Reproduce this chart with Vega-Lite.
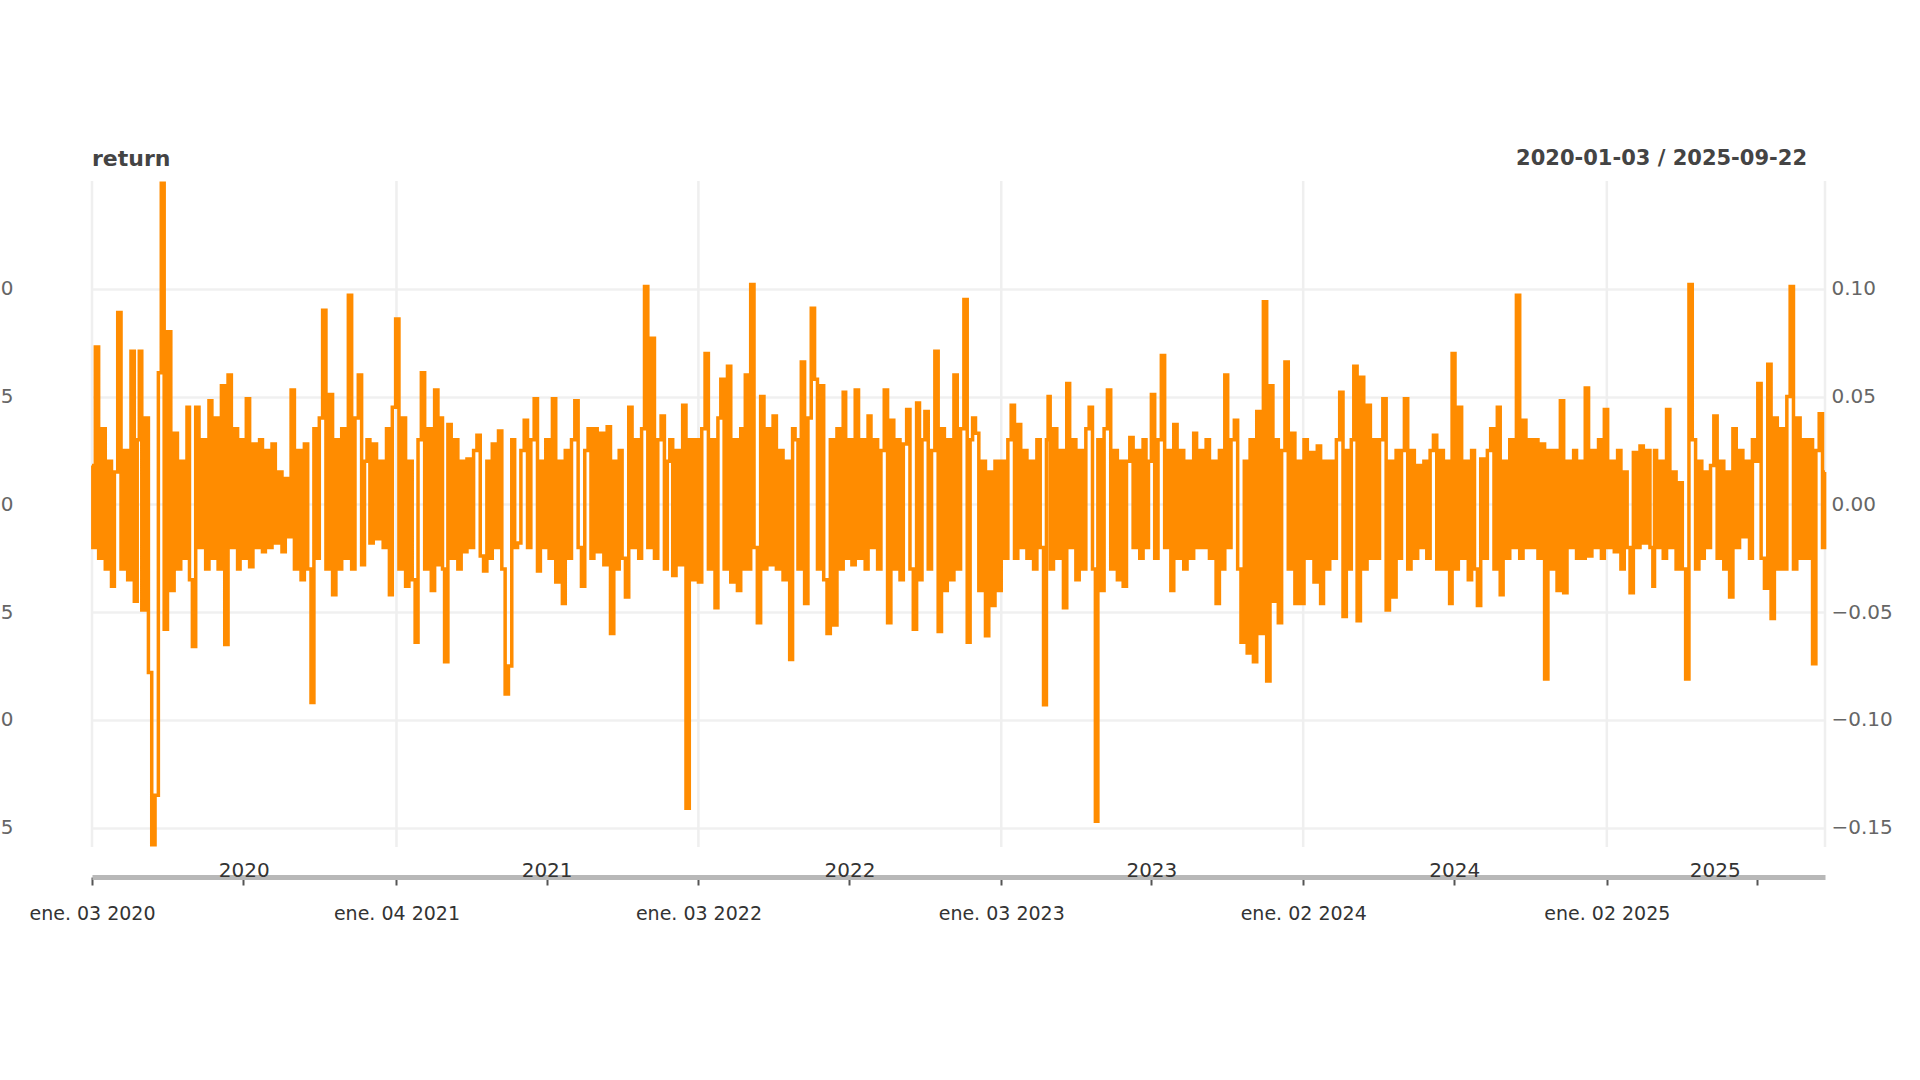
{
"$schema":"https://vega.github.io/schema/vega-lite/v6.json",
"width":1733,"height":666,
"autosize":{"type":"none"},
"padding":{"left":92,"top":181,"right":95,"bottom":233},
"background":"white",
"config":{"view":{"stroke":null},"font":"DejaVu Sans","axis":{"labelFont":"DejaVu Sans"}},
"title":{"text":"return","anchor":"start","frame":"group","fontSize":22,"font":"DejaVu Sans","fontWeight":"bold","color":"#444444","offset":-23},
"datasets":{
"grid":[{"d":"2020-01-03"},{"d":"2021-01-04"},{"d":"2022-01-03"},{"d":"2023-01-03"},{"d":"2024-01-02"},{"d":"2025-01-02"},{"d":"2025-09-22"}],
"range":[{"t":"2020-01-03 / 2025-09-22"}],
"ret":[
{"d":"2020-01-03","r":0.018},{"d":"2020-01-05","r":-0.02},{"d":"2020-01-09","r":0.073},{"d":"2020-01-13","r":-0.025},{"d":"2020-01-17","r":0.035},{"d":"2020-01-21","r":-0.03},{"d":"2020-01-25","r":0.02},{"d":"2020-01-28","r":-0.038},
{"d":"2020-02-01","r":0.015},{"d":"2020-02-05","r":0.089},{"d":"2020-02-09","r":-0.03},{"d":"2020-02-13","r":0.025},{"d":"2020-02-17","r":-0.035},{"d":"2020-02-21","r":0.071},{"d":"2020-02-25","r":-0.045},{"d":"2020-02-28","r":0.03},
{"d":"2020-03-01","r":0.071},{"d":"2020-03-05","r":-0.049},{"d":"2020-03-09","r":0.04},{"d":"2020-03-13","r":-0.078},{"d":"2020-03-17","r":-0.158},{"d":"2020-03-21","r":-0.135},{"d":"2020-03-25","r":0.061},{"d":"2020-03-28","r":0.149},
{"d":"2020-04-01","r":-0.058},{"d":"2020-04-05","r":0.08},{"d":"2020-04-09","r":-0.04},{"d":"2020-04-13","r":0.033},{"d":"2020-04-17","r":-0.03},{"d":"2020-04-21","r":0.02},{"d":"2020-04-25","r":-0.025},{"d":"2020-04-28","r":0.045},
{"d":"2020-05-01","r":-0.035},{"d":"2020-05-05","r":-0.066},{"d":"2020-05-09","r":0.045},{"d":"2020-05-13","r":-0.02},{"d":"2020-05-17","r":0.03},{"d":"2020-05-21","r":-0.03},{"d":"2020-05-25","r":0.048},{"d":"2020-05-28","r":-0.025},
{"d":"2020-06-01","r":0.04},{"d":"2020-06-05","r":-0.03},{"d":"2020-06-09","r":0.055},{"d":"2020-06-13","r":-0.065},{"d":"2020-06-17","r":0.06},{"d":"2020-06-21","r":-0.02},{"d":"2020-06-25","r":0.035},{"d":"2020-06-28","r":-0.03},
{"d":"2020-07-01","r":0.03},{"d":"2020-07-05","r":-0.025},{"d":"2020-07-09","r":0.049},{"d":"2020-07-13","r":-0.029},{"d":"2020-07-17","r":0.028},{"d":"2020-07-21","r":-0.02},{"d":"2020-07-25","r":0.03},{"d":"2020-07-28","r":-0.022},
{"d":"2020-08-01","r":0.025},{"d":"2020-08-05","r":-0.02},{"d":"2020-08-09","r":0.028},{"d":"2020-08-13","r":-0.018},{"d":"2020-08-17","r":0.015},{"d":"2020-08-21","r":-0.022},{"d":"2020-08-25","r":0.012},{"d":"2020-08-28","r":-0.015},
{"d":"2020-09-01","r":0.053},{"d":"2020-09-05","r":-0.03},{"d":"2020-09-09","r":0.025},{"d":"2020-09-13","r":-0.035},{"d":"2020-09-17","r":0.028},{"d":"2020-09-21","r":-0.03},{"d":"2020-09-25","r":-0.092},{"d":"2020-09-28","r":0.035},
{"d":"2020-10-01","r":-0.025},{"d":"2020-10-05","r":0.04},{"d":"2020-10-09","r":0.09},{"d":"2020-10-13","r":-0.03},{"d":"2020-10-17","r":0.051},{"d":"2020-10-21","r":-0.042},{"d":"2020-10-25","r":0.03},{"d":"2020-10-28","r":-0.03},
{"d":"2020-11-01","r":0.035},{"d":"2020-11-05","r":-0.025},{"d":"2020-11-09","r":0.097},{"d":"2020-11-13","r":-0.03},{"d":"2020-11-17","r":0.04},{"d":"2020-11-21","r":0.06},{"d":"2020-11-25","r":-0.028},{"d":"2020-11-28","r":0.02},
{"d":"2020-12-01","r":0.03},{"d":"2020-12-05","r":-0.018},{"d":"2020-12-09","r":0.028},{"d":"2020-12-13","r":-0.016},{"d":"2020-12-17","r":0.02},{"d":"2020-12-21","r":-0.02},{"d":"2020-12-25","r":0.035},{"d":"2020-12-28","r":-0.042},
{"d":"2021-01-01","r":0.045},{"d":"2021-01-05","r":0.086},{"d":"2021-01-09","r":-0.03},{"d":"2021-01-13","r":0.04},{"d":"2021-01-17","r":-0.038},{"d":"2021-01-21","r":0.02},{"d":"2021-01-25","r":-0.035},{"d":"2021-01-28","r":-0.064},
{"d":"2021-02-01","r":0.03},{"d":"2021-02-05","r":0.061},{"d":"2021-02-09","r":-0.03},{"d":"2021-02-13","r":0.035},{"d":"2021-02-17","r":-0.04},{"d":"2021-02-21","r":0.053},{"d":"2021-02-25","r":-0.028},{"d":"2021-02-28","r":0.04},
{"d":"2021-03-01","r":-0.03},{"d":"2021-03-05","r":-0.073},{"d":"2021-03-09","r":0.037},{"d":"2021-03-13","r":-0.025},{"d":"2021-03-17","r":0.03},{"d":"2021-03-21","r":-0.03},{"d":"2021-03-25","r":0.02},{"d":"2021-03-28","r":-0.022},
{"d":"2021-04-01","r":0.021},{"d":"2021-04-05","r":-0.02},{"d":"2021-04-09","r":0.025},{"d":"2021-04-13","r":0.032},{"d":"2021-04-17","r":-0.024},{"d":"2021-04-21","r":-0.031},{"d":"2021-04-25","r":0.02},{"d":"2021-04-28","r":-0.025},
{"d":"2021-05-01","r":0.028},{"d":"2021-05-05","r":-0.02},{"d":"2021-05-09","r":0.034},{"d":"2021-05-13","r":-0.03},{"d":"2021-05-17","r":-0.088},{"d":"2021-05-21","r":-0.075},{"d":"2021-05-25","r":0.03},{"d":"2021-05-28","r":-0.02},
{"d":"2021-06-01","r":-0.018},{"d":"2021-06-05","r":0.025},{"d":"2021-06-09","r":0.039},{"d":"2021-06-13","r":-0.02},{"d":"2021-06-17","r":0.03},{"d":"2021-06-21","r":0.049},{"d":"2021-06-25","r":-0.031},{"d":"2021-06-28","r":0.02},
{"d":"2021-07-01","r":-0.02},{"d":"2021-07-05","r":0.03},{"d":"2021-07-09","r":-0.025},{"d":"2021-07-13","r":0.049},{"d":"2021-07-17","r":-0.036},{"d":"2021-07-21","r":0.02},{"d":"2021-07-25","r":-0.046},{"d":"2021-07-28","r":0.025},
{"d":"2021-08-01","r":-0.025},{"d":"2021-08-05","r":0.03},{"d":"2021-08-09","r":0.048},{"d":"2021-08-13","r":-0.02},{"d":"2021-08-17","r":-0.038},{"d":"2021-08-21","r":0.025},{"d":"2021-08-25","r":0.035},{"d":"2021-08-28","r":-0.025},
{"d":"2021-09-01","r":0.035},{"d":"2021-09-05","r":-0.022},{"d":"2021-09-09","r":0.033},{"d":"2021-09-13","r":-0.028},{"d":"2021-09-17","r":0.036},{"d":"2021-09-21","r":-0.06},{"d":"2021-09-25","r":0.02},{"d":"2021-09-28","r":-0.03},
{"d":"2021-10-01","r":0.025},{"d":"2021-10-05","r":-0.025},{"d":"2021-10-09","r":-0.043},{"d":"2021-10-13","r":0.045},{"d":"2021-10-17","r":-0.02},{"d":"2021-10-21","r":0.03},{"d":"2021-10-25","r":-0.025},{"d":"2021-10-28","r":0.035},
{"d":"2021-11-01","r":0.101},{"d":"2021-11-05","r":-0.02},{"d":"2021-11-09","r":0.077},{"d":"2021-11-13","r":-0.025},{"d":"2021-11-17","r":0.03},{"d":"2021-11-21","r":0.041},{"d":"2021-11-25","r":-0.03},{"d":"2021-11-28","r":0.02},
{"d":"2021-12-01","r":0.03},{"d":"2021-12-05","r":-0.033},{"d":"2021-12-09","r":0.025},{"d":"2021-12-13","r":-0.028},{"d":"2021-12-17","r":0.046},{"d":"2021-12-21","r":-0.141},{"d":"2021-12-25","r":0.03},{"d":"2021-12-28","r":-0.035},
{"d":"2022-01-01","r":0.03},{"d":"2022-01-05","r":-0.036},{"d":"2022-01-09","r":0.035},{"d":"2022-01-13","r":0.07},{"d":"2022-01-17","r":-0.03},{"d":"2022-01-21","r":0.03},{"d":"2022-01-25","r":-0.048},{"d":"2022-01-28","r":0.04},
{"d":"2022-02-01","r":0.058},{"d":"2022-02-05","r":-0.03},{"d":"2022-02-09","r":0.064},{"d":"2022-02-13","r":-0.036},{"d":"2022-02-17","r":0.03},{"d":"2022-02-21","r":-0.04},{"d":"2022-02-25","r":0.035},{"d":"2022-02-28","r":-0.03},
{"d":"2022-03-01","r":0.06},{"d":"2022-03-05","r":-0.03},{"d":"2022-03-09","r":0.102},{"d":"2022-03-13","r":-0.02},{"d":"2022-03-17","r":-0.055},{"d":"2022-03-21","r":0.05},{"d":"2022-03-25","r":-0.03},{"d":"2022-03-28","r":0.035},
{"d":"2022-04-01","r":-0.028},{"d":"2022-04-05","r":0.041},{"d":"2022-04-09","r":-0.03},{"d":"2022-04-13","r":0.025},{"d":"2022-04-17","r":-0.035},{"d":"2022-04-21","r":0.02},{"d":"2022-04-25","r":-0.072},{"d":"2022-04-28","r":0.035},
{"d":"2022-05-01","r":0.03},{"d":"2022-05-05","r":-0.03},{"d":"2022-05-09","r":0.066},{"d":"2022-05-13","r":-0.046},{"d":"2022-05-17","r":0.04},{"d":"2022-05-21","r":0.091},{"d":"2022-05-25","r":0.058},{"d":"2022-05-28","r":-0.03},
{"d":"2022-06-01","r":0.055},{"d":"2022-06-05","r":-0.035},{"d":"2022-06-09","r":-0.06},{"d":"2022-06-13","r":0.03},{"d":"2022-06-17","r":-0.056},{"d":"2022-06-21","r":0.035},{"d":"2022-06-25","r":-0.03},{"d":"2022-06-28","r":0.052},
{"d":"2022-07-01","r":-0.025},{"d":"2022-07-05","r":0.03},{"d":"2022-07-09","r":-0.028},{"d":"2022-07-13","r":0.053},{"d":"2022-07-17","r":-0.025},{"d":"2022-07-21","r":0.03},{"d":"2022-07-25","r":-0.03},{"d":"2022-07-28","r":0.041},
{"d":"2022-08-01","r":-0.02},{"d":"2022-08-05","r":0.03},{"d":"2022-08-09","r":-0.03},{"d":"2022-08-13","r":0.025},{"d":"2022-08-17","r":0.053},{"d":"2022-08-21","r":-0.055},{"d":"2022-08-25","r":0.039},{"d":"2022-08-28","r":-0.03},
{"d":"2022-09-01","r":0.03},{"d":"2022-09-05","r":-0.035},{"d":"2022-09-09","r":0.028},{"d":"2022-09-13","r":0.044},{"d":"2022-09-17","r":-0.03},{"d":"2022-09-21","r":-0.058},{"d":"2022-09-25","r":0.047},{"d":"2022-09-28","r":-0.035},
{"d":"2022-10-01","r":0.03},{"d":"2022-10-05","r":0.043},{"d":"2022-10-09","r":-0.03},{"d":"2022-10-13","r":0.025},{"d":"2022-10-17","r":0.071},{"d":"2022-10-21","r":-0.059},{"d":"2022-10-25","r":0.035},{"d":"2022-10-28","r":-0.04},
{"d":"2022-11-01","r":0.03},{"d":"2022-11-05","r":-0.035},{"d":"2022-11-09","r":0.06},{"d":"2022-11-13","r":-0.03},{"d":"2022-11-17","r":0.035},{"d":"2022-11-21","r":0.095},{"d":"2022-11-25","r":-0.064},{"d":"2022-11-28","r":0.03},
{"d":"2022-12-01","r":0.04},{"d":"2022-12-05","r":0.033},{"d":"2022-12-09","r":-0.04},{"d":"2022-12-13","r":0.02},{"d":"2022-12-17","r":-0.061},{"d":"2022-12-21","r":0.015},{"d":"2022-12-25","r":-0.047},{"d":"2022-12-28","r":0.02},
{"d":"2023-01-01","r":-0.04},{"d":"2023-01-05","r":0.02},{"d":"2023-01-09","r":-0.025},{"d":"2023-01-13","r":0.03},{"d":"2023-01-17","r":0.046},{"d":"2023-01-21","r":-0.025},{"d":"2023-01-25","r":0.037},{"d":"2023-01-28","r":-0.02},
{"d":"2023-02-01","r":0.025},{"d":"2023-02-05","r":-0.025},{"d":"2023-02-09","r":0.02},{"d":"2023-02-13","r":-0.03},{"d":"2023-02-17","r":0.03},{"d":"2023-02-21","r":-0.02},{"d":"2023-02-25","r":-0.093},{"d":"2023-02-28","r":0.03},
{"d":"2023-03-01","r":0.05},{"d":"2023-03-05","r":-0.03},{"d":"2023-03-09","r":0.035},{"d":"2023-03-13","r":-0.025},{"d":"2023-03-17","r":0.025},{"d":"2023-03-21","r":-0.048},{"d":"2023-03-25","r":0.056},{"d":"2023-03-28","r":-0.02},
{"d":"2023-04-01","r":0.03},{"d":"2023-04-05","r":-0.035},{"d":"2023-04-09","r":0.025},{"d":"2023-04-13","r":-0.03},{"d":"2023-04-17","r":0.035},{"d":"2023-04-21","r":0.045},{"d":"2023-04-25","r":-0.03},{"d":"2023-04-28","r":-0.147},
{"d":"2023-05-01","r":0.03},{"d":"2023-05-05","r":-0.04},{"d":"2023-05-09","r":0.035},{"d":"2023-05-13","r":0.053},{"d":"2023-05-17","r":-0.03},{"d":"2023-05-21","r":0.025},{"d":"2023-05-25","r":-0.035},{"d":"2023-05-28","r":0.02},
{"d":"2023-06-01","r":-0.038},{"d":"2023-06-05","r":0.02},{"d":"2023-06-09","r":0.031},{"d":"2023-06-13","r":-0.02},{"d":"2023-06-17","r":0.025},{"d":"2023-06-21","r":-0.025},{"d":"2023-06-25","r":0.03},{"d":"2023-06-28","r":-0.02},
{"d":"2023-07-01","r":0.02},{"d":"2023-07-05","r":0.051},{"d":"2023-07-09","r":-0.025},{"d":"2023-07-13","r":0.03},{"d":"2023-07-17","r":0.069},{"d":"2023-07-21","r":-0.02},{"d":"2023-07-25","r":0.025},{"d":"2023-07-28","r":-0.04},
{"d":"2023-08-01","r":0.037},{"d":"2023-08-05","r":-0.025},{"d":"2023-08-09","r":0.025},{"d":"2023-08-13","r":-0.03},{"d":"2023-08-17","r":0.02},{"d":"2023-08-21","r":-0.025},{"d":"2023-08-25","r":0.033},{"d":"2023-08-28","r":-0.02},
{"d":"2023-09-01","r":0.025},{"d":"2023-09-05","r":-0.02},{"d":"2023-09-09","r":0.03},{"d":"2023-09-13","r":-0.025},{"d":"2023-09-17","r":0.02},{"d":"2023-09-21","r":-0.046},{"d":"2023-09-25","r":0.025},{"d":"2023-09-28","r":-0.03},
{"d":"2023-10-01","r":0.06},{"d":"2023-10-05","r":-0.02},{"d":"2023-10-09","r":0.03},{"d":"2023-10-13","r":0.039},{"d":"2023-10-17","r":-0.03},{"d":"2023-10-21","r":-0.064},{"d":"2023-10-25","r":0.02},{"d":"2023-10-28","r":-0.069},
{"d":"2023-11-01","r":0.03},{"d":"2023-11-05","r":-0.073},{"d":"2023-11-09","r":0.043},{"d":"2023-11-13","r":-0.06},{"d":"2023-11-17","r":0.094},{"d":"2023-11-21","r":-0.082},{"d":"2023-11-25","r":0.055},{"d":"2023-11-28","r":-0.045},
{"d":"2023-12-01","r":0.03},{"d":"2023-12-05","r":-0.055},{"d":"2023-12-09","r":0.025},{"d":"2023-12-13","r":0.066},{"d":"2023-12-17","r":-0.03},{"d":"2023-12-21","r":0.033},{"d":"2023-12-25","r":-0.046},{"d":"2023-12-28","r":0.02},
{"d":"2024-01-01","r":-0.046},{"d":"2024-01-05","r":0.03},{"d":"2024-01-09","r":-0.025},{"d":"2024-01-13","r":0.024},{"d":"2024-01-17","r":-0.036},{"d":"2024-01-21","r":0.027},{"d":"2024-01-25","r":-0.046},{"d":"2024-01-28","r":0.02},
{"d":"2024-02-01","r":-0.03},{"d":"2024-02-05","r":0.02},{"d":"2024-02-09","r":-0.025},{"d":"2024-02-13","r":0.03},{"d":"2024-02-17","r":0.052},{"d":"2024-02-21","r":-0.052},{"d":"2024-02-25","r":0.025},{"d":"2024-02-28","r":-0.03},
{"d":"2024-03-01","r":0.03},{"d":"2024-03-05","r":0.064},{"d":"2024-03-09","r":-0.054},{"d":"2024-03-13","r":0.059},{"d":"2024-03-17","r":-0.03},{"d":"2024-03-21","r":0.046},{"d":"2024-03-25","r":-0.025},{"d":"2024-03-28","r":0.03},
{"d":"2024-04-01","r":-0.025},{"d":"2024-04-05","r":0.03},{"d":"2024-04-09","r":0.049},{"d":"2024-04-13","r":-0.049},{"d":"2024-04-17","r":0.02},{"d":"2024-04-21","r":-0.043},{"d":"2024-04-25","r":0.025},{"d":"2024-04-28","r":-0.025},
{"d":"2024-05-01","r":0.025},{"d":"2024-05-05","r":0.049},{"d":"2024-05-09","r":-0.03},{"d":"2024-05-13","r":0.025},{"d":"2024-05-17","r":-0.025},{"d":"2024-05-21","r":0.018},{"d":"2024-05-25","r":-0.02},{"d":"2024-05-28","r":0.02},
{"d":"2024-06-01","r":-0.025},{"d":"2024-06-05","r":0.025},{"d":"2024-06-09","r":0.032},{"d":"2024-06-13","r":-0.03},{"d":"2024-06-17","r":0.025},{"d":"2024-06-21","r":-0.03},{"d":"2024-06-25","r":0.02},{"d":"2024-06-28","r":-0.046},
{"d":"2024-07-01","r":0.07},{"d":"2024-07-05","r":-0.03},{"d":"2024-07-09","r":0.045},{"d":"2024-07-13","r":-0.025},{"d":"2024-07-17","r":0.02},{"d":"2024-07-21","r":-0.035},{"d":"2024-07-25","r":0.025},{"d":"2024-07-28","r":-0.03},
{"d":"2024-08-01","r":-0.047},{"d":"2024-08-05","r":0.021},{"d":"2024-08-09","r":-0.025},{"d":"2024-08-13","r":0.025},{"d":"2024-08-17","r":0.035},{"d":"2024-08-21","r":-0.03},{"d":"2024-08-25","r":0.045},{"d":"2024-08-28","r":-0.042},
{"d":"2024-09-01","r":0.02},{"d":"2024-09-05","r":-0.025},{"d":"2024-09-09","r":0.03},{"d":"2024-09-13","r":-0.02},{"d":"2024-09-17","r":0.097},{"d":"2024-09-21","r":-0.025},{"d":"2024-09-25","r":0.039},{"d":"2024-09-28","r":-0.02},
{"d":"2024-10-01","r":0.03},{"d":"2024-10-05","r":-0.02},{"d":"2024-10-09","r":0.03},{"d":"2024-10-13","r":-0.025},{"d":"2024-10-17","r":0.028},{"d":"2024-10-21","r":-0.081},{"d":"2024-10-25","r":0.025},{"d":"2024-10-28","r":-0.03},
{"d":"2024-11-01","r":0.025},{"d":"2024-11-05","r":-0.04},{"d":"2024-11-09","r":0.048},{"d":"2024-11-13","r":-0.041},{"d":"2024-11-17","r":0.02},{"d":"2024-11-21","r":-0.02},{"d":"2024-11-25","r":0.025},{"d":"2024-11-28","r":-0.025},
{"d":"2024-12-01","r":0.02},{"d":"2024-12-05","r":-0.025},{"d":"2024-12-09","r":0.054},{"d":"2024-12-13","r":-0.024},{"d":"2024-12-17","r":0.025},{"d":"2024-12-21","r":-0.02},{"d":"2024-12-25","r":0.03},{"d":"2024-12-28","r":-0.025},
{"d":"2025-01-01","r":0.044},{"d":"2025-01-05","r":-0.02},{"d":"2025-01-09","r":0.02},{"d":"2025-01-13","r":-0.022},{"d":"2025-01-17","r":0.025},{"d":"2025-01-21","r":-0.03},{"d":"2025-01-25","r":0.015},{"d":"2025-01-28","r":-0.02},
{"d":"2025-02-01","r":-0.041},{"d":"2025-02-05","r":0.024},{"d":"2025-02-09","r":-0.02},{"d":"2025-02-13","r":0.027},{"d":"2025-02-17","r":-0.018},{"d":"2025-02-21","r":0.025},{"d":"2025-02-25","r":-0.02},{"d":"2025-02-28","r":-0.038},
{"d":"2025-03-01","r":0.025},{"d":"2025-03-05","r":-0.02},{"d":"2025-03-09","r":0.02},{"d":"2025-03-13","r":-0.025},{"d":"2025-03-17","r":0.044},{"d":"2025-03-21","r":-0.02},{"d":"2025-03-25","r":0.015},{"d":"2025-03-28","r":-0.03},
{"d":"2025-04-01","r":0.01},{"d":"2025-04-05","r":-0.03},{"d":"2025-04-09","r":-0.081},{"d":"2025-04-13","r":0.102},{"d":"2025-04-17","r":0.03},{"d":"2025-04-21","r":-0.03},{"d":"2025-04-25","r":0.02},{"d":"2025-04-28","r":-0.025},
{"d":"2025-05-01","r":0.015},{"d":"2025-05-05","r":-0.02},{"d":"2025-05-09","r":0.018},{"d":"2025-05-13","r":0.041},{"d":"2025-05-17","r":-0.025},{"d":"2025-05-21","r":0.02},{"d":"2025-05-25","r":-0.03},{"d":"2025-05-28","r":0.015},
{"d":"2025-06-01","r":-0.043},{"d":"2025-06-05","r":0.035},{"d":"2025-06-09","r":-0.02},{"d":"2025-06-13","r":0.025},{"d":"2025-06-17","r":-0.015},{"d":"2025-06-21","r":0.02},{"d":"2025-06-25","r":-0.025},{"d":"2025-06-28","r":0.03},
{"d":"2025-07-01","r":0.02},{"d":"2025-07-05","r":0.056},{"d":"2025-07-09","r":-0.025},{"d":"2025-07-13","r":-0.039},{"d":"2025-07-17","r":0.065},{"d":"2025-07-21","r":-0.053},{"d":"2025-07-25","r":0.04},{"d":"2025-07-28","r":-0.03},
{"d":"2025-08-01","r":0.035},{"d":"2025-08-05","r":-0.03},{"d":"2025-08-09","r":0.05},{"d":"2025-08-13","r":0.101},{"d":"2025-08-17","r":-0.03},{"d":"2025-08-21","r":0.04},{"d":"2025-08-25","r":-0.025},{"d":"2025-08-28","r":0.03},
{"d":"2025-09-01","r":-0.025},{"d":"2025-09-05","r":0.03},{"d":"2025-09-09","r":-0.074},{"d":"2025-09-13","r":0.025},{"d":"2025-09-17","r":0.042},{"d":"2025-09-21","r":-0.02},{"d":"2025-09-22","r":0.015}
]},
"layer":[
{"data":{"name":"grid"},
 "mark":{"type":"rule","color":"#efefef","strokeWidth":2.5},
 "encoding":{
  "x":{"field":"d","type":"temporal",
   "scale":{"type":"utc","domain":[{"year":2020,"month":1,"date":3,"utc":true},{"year":2025,"month":9,"date":22,"utc":true}]},
   "axis":{"orient":"bottom","offset":30,"title":null,"grid":false,
    "values":[{"year":2020,"month":1,"date":3,"utc":true},{"year":2020,"month":7,"date":3,"utc":true},{"year":2021,"month":1,"date":4,"utc":true},{"year":2021,"month":7,"date":4,"utc":true},{"year":2022,"month":1,"date":3,"utc":true},{"year":2022,"month":7,"date":4,"utc":true},{"year":2023,"month":1,"date":3,"utc":true},{"year":2023,"month":7,"date":3,"utc":true},{"year":2024,"month":1,"date":2,"utc":true},{"year":2024,"month":7,"date":2,"utc":true},{"year":2025,"month":1,"date":2,"utc":true},{"year":2025,"month":7,"date":2,"utc":true}],
    "labelExpr":"utcmonth(datum.value) == 0 ? 'ene. ' + utcFormat(datum.value, '%d %Y') : ''",
    "domain":true,"domainColor":"#b8b8b8","domainWidth":5,
    "ticks":true,"tickColor":"#555555","tickWidth":2,"tickSize":8,
    "labelPadding":19,"labelFontSize":19,"labelColor":"#333333","labelFlush":false,"labelOverlap":false}}}},
{"data":{"name":"ret"},
 "mark":{"type":"line","color":"#ff8c00","strokeWidth":3.5,"interpolate":"step"},
 "encoding":{
  "x":{"field":"d","type":"temporal",
   "scale":{"type":"utc","domain":[{"year":2020,"month":1,"date":3,"utc":true},{"year":2025,"month":9,"date":22,"utc":true}]},
   "axis":{"orient":"bottom","offset":0,"title":null,"grid":false,"domain":false,"ticks":false,"tickSize":0,
    "values":[{"year":2020,"month":7,"date":4,"utc":true},{"year":2021,"month":7,"date":4,"utc":true},{"year":2022,"month":7,"date":4,"utc":true},{"year":2023,"month":7,"date":3,"utc":true},{"year":2024,"month":7,"date":2,"utc":true},{"year":2025,"month":5,"date":12,"utc":true}],
    "format":"%Y","labelPadding":29,"labelBaseline":"alphabetic","labelFontSize":20,"labelColor":"#333333","labelFlush":false,"labelOverlap":false}},
  "y":{"field":"r","type":"quantitative",
   "scale":{"domain":[-0.159,0.150],"nice":false,"zero":false},
   "axis":{"orient":"right","title":null,"values":[-0.15,-0.1,-0.05,0,0.05,0.1],"format":".2f",
    "grid":true,"gridColor":"#f0f0f0","gridWidth":2.5,"domain":false,"ticks":false,
    "labelPadding":6,"labelFontSize":20,"labelColor":"#666666","labelAlign":"left"}}}},
{"data":{"name":"range"},
 "mark":{"type":"text","align":"right","baseline":"alphabetic","dx":-18,"dy":-16,"fontSize":21,"fontWeight":"bold","color":"#444444","font":"DejaVu Sans"},
 "encoding":{
  "x":{"datum":{"year":2025,"month":9,"date":22,"utc":true},"type":"temporal","axis":null},
  "y":{"datum":0.150,"type":"quantitative",
   "axis":{"orient":"left","title":null,"values":[-0.15,-0.1,-0.05,0,0.05,0.1],"format":".2f",
    "grid":false,"domain":false,"ticks":false,"labelPadding":79,"labelFontSize":20,"labelColor":"#666666"}},
  "text":{"field":"t"}}}
],
"resolve":{"axis":{"x":"independent","y":"independent"}}
}
